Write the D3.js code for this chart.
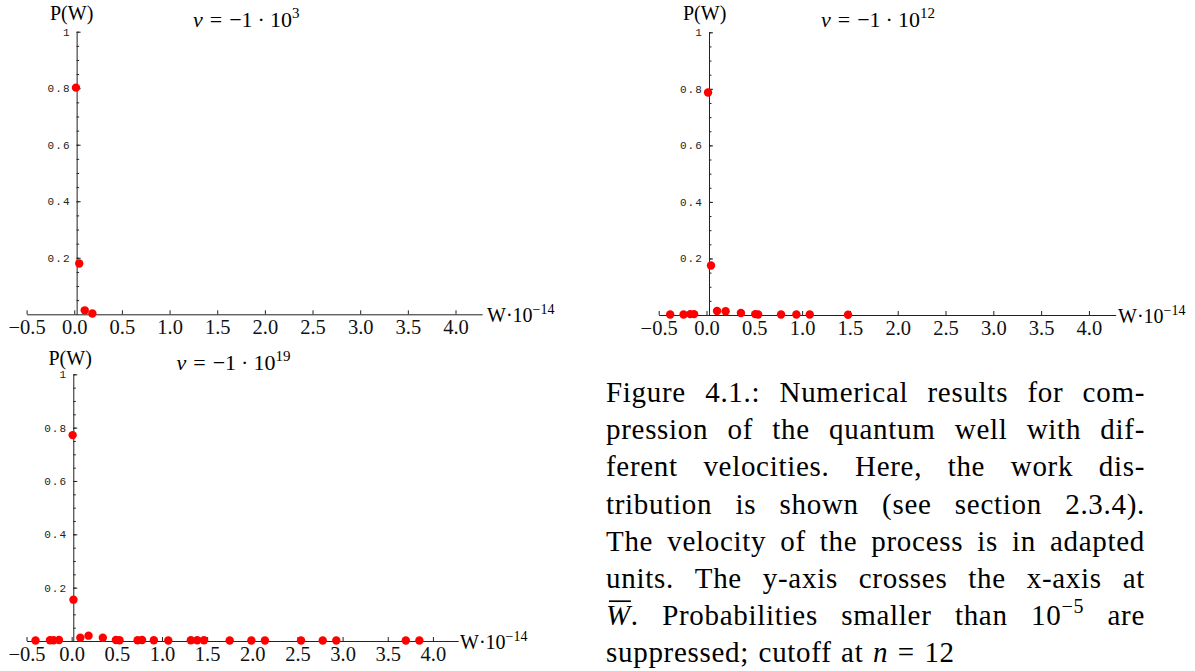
<!DOCTYPE html>
<html><head><meta charset="utf-8">
<script src="https://cdn.jsdelivr.net/npm/d3@7"></script>
<style>
body{margin:0;background:#fff;}
svg{display:block;}
</style></head>
<body>
<svg id="fig" width="1195" height="671"></svg>
<script>
// Work distribution P(W) of the compressed quantum well, W in units of 10^-14

const xTicks = [-0.5, 0, 0.5, 1.0, 1.5, 2.0, 2.5, 3.0, 3.5, 4.0];
const xTickLabels = ["−0.5", "0.0", "0.5", "1.0", "1.5", "2.0", "2.5", "3.0", "3.5", "4.0"];
const yTicks = [0.2, 0.4, 0.6, 0.8, 1];
const yTickLabels = ["0.2", "0.4", "0.6", "0.8", "1"];
const yMinorTicks = d3.range(0.05, 1.0001, 0.05);
const xExtent = [-0.5, 4.28];

// v = -1e3
const velocityExpA = "3";
const workA = [0.018, 0.052, 0.11, 0.19];
const probA = [0.802, 0.180, 0.014, 0.003];
const meanWorkA = 0.025;

// v = -1e12
const velocityExpB = "12";
const workB = [0.016, 0.047, -0.38, -0.24, -0.17, -0.13, 0.11, 0.20, 0.36, 0.51, 0.54, 0.78, 0.94, 1.08, 1.48];
const probB = [0.787, 0.175, 0.002, 0.002, 0.003, 0.003, 0.014, 0.013, 0.007, 0.003, 0.002, 0.002, 0.002, 0.002, 0.001];
const meanWorkB = 0.026;

// v = -1e19
const velocityExpC = "19";
const workC = [0.011, 0.020, -0.40, -0.24, -0.20, -0.14, 0.096, 0.187, 0.345, 0.49, 0.53, 0.73, 0.78, 0.91, 1.07,
               1.32, 1.39, 1.465, 1.75, 1.99, 2.14, 2.54, 2.78, 2.93, 3.70, 3.85];
const probC = [0.772, 0.155, 0.002, 0.003, 0.003, 0.004, 0.012, 0.020, 0.012, 0.004, 0.003, 0.003, 0.004, 0.003, 0.002,
               0.003, 0.003, 0.003, 0.002, 0.002, 0.002, 0.002, 0.002, 0.002, 0.002, 0.002];
const meanWorkC = 0.018;

const captionLines = [
  [["Figure"], ["4.1.:"], ["Numerical"], ["results"], ["for"], ["com-"]],
  [["pression"], ["of"], ["the"], ["quantum"], ["well"], ["with"], ["dif-"]],
  [["ferent"], ["velocities."], ["Here,"], ["the"], ["work"], ["dis-"]],
  [["tribution"], ["is"], ["shown"], ["(see"], ["section"], ["2.3.4)."]],
  [["The"], ["velocity"], ["of"], ["the"], ["process"], ["is"], ["in"], ["adapted"]],
  [["units."], ["The"], ["y-axis"], ["crosses"], ["the"], ["x-axis"], ["at"]],
  [[{t: "W", it: true, bar: true}, "."], ["Probabilities"], ["smaller"], ["than"], ["10", {t: "−5", sup: true}], ["are"]],
  [["suppressed;"], ["cutoff"], ["at"], [{t: "n", it: true}], ["="], ["12"]]
];

// ---- layout ----
const SERIF = "'Liberation Serif', 'Times New Roman', serif";
const MONO = "'Liberation Mono', 'Courier New', monospace";

const panels = [
  {work: workA, prob: probA, mean: meanWorkA, exp: velocityExpA,
   left: 26.6, right: 482.2, top: 31.7, bottom: 314.3,
   pw: [50, 19.5], title: [193, 26.5], wlab: [487, 322]},
  {work: workB, prob: probB, mean: meanWorkB, exp: velocityExpB,
   left: 658.7, right: 1115.7, top: 32.3, bottom: 315,
   pw: [683, 20], title: [821, 26.5], wlab: [1118, 323]},
  {work: workC, prob: probC, mean: meanWorkC, exp: velocityExpC,
   left: 26.5, right: 458.2, top: 374.3, bottom: 641,
   pw: [48.5, 364.5], title: [176.5, 370], wlab: [460, 649]}
];

const svg = d3.select("#fig");

panels.forEach(p => {
  const x = d3.scaleLinear().domain(xExtent).range([p.left, p.right]);
  const y = d3.scaleLinear().domain([0, 1]).range([p.bottom, p.top]);
  const g = svg.append("g");

  // x axis: ticks point upward, labels below
  const xAxis = d3.axisBottom(x)
    .tickValues(xTicks)
    .tickFormat((d, i) => xTickLabels[i])
    .tickSizeInner(-4).tickSizeOuter(0).tickPadding(5);
  const gx = g.append("g").attr("transform", `translate(0,${y(0)})`).call(xAxis);
  gx.select(".domain").attr("stroke", "#222").attr("stroke-width", 1);
  gx.selectAll(".tick line").attr("stroke", "#222");
  gx.selectAll(".tick text").attr("font-family", SERIF).attr("font-size", 20.5).attr("fill", "#111");

  // y axis crossing the x axis at the mean work
  const yAxis = d3.axisLeft(y)
    .tickValues(yTicks)
    .tickFormat((d, i) => yTickLabels[i])
    .tickSizeInner(-4).tickSizeOuter(0).tickPadding(6);
  const gy = g.append("g").attr("transform", `translate(${x(p.mean)},0)`).call(yAxis);
  gy.select(".domain").attr("stroke", "#222").attr("stroke-width", 1);
  gy.selectAll(".tick line").attr("stroke", "#222");
  gy.selectAll(".tick text").attr("font-family", MONO).attr("font-size", 11)
    .attr("letter-spacing", 1.1).attr("fill", "#222");

  const yMinor = d3.axisLeft(y).tickValues(yMinorTicks).tickFormat("").tickSizeInner(-2.5).tickSizeOuter(0);
  const gm = g.append("g").attr("transform", `translate(${x(p.mean)},0)`).call(yMinor);
  gm.select(".domain").remove();
  gm.selectAll(".tick line").attr("stroke", "#222");

  // points
  g.append("g").selectAll("circle")
    .data(p.work.map((w, i) => ({w, pr: p.prob[i]})))
    .join("circle")
    .attr("cx", d => x(d.w))
    .attr("cy", d => y(d.pr))
    .attr("r", 4.2)
    .attr("fill", "#ff0000");

  // axis labels
  g.append("text").attr("x", p.pw[0]).attr("y", p.pw[1])
    .attr("font-family", SERIF).attr("font-size", 20).text("P(W)");

  const wl = g.append("text").attr("x", p.wlab[0]).attr("y", p.wlab[1])
    .attr("font-family", SERIF).attr("font-size", 20);
  wl.append("tspan").text("W·10");
  wl.append("tspan").attr("dy", -8).attr("font-size", 14).text("−14");

  // velocity title
  const t = g.append("text").attr("x", p.title[0]).attr("y", p.title[1])
    .attr("font-family", SERIF).attr("font-size", 22);
  t.append("tspan").attr("font-style", "italic").text("v");
  t.append("tspan").attr("dx", 7).text("=");
  t.append("tspan").attr("dx", 7).text("−1");
  t.append("tspan").attr("dx", 5).text("·");
  t.append("tspan").attr("dx", 5).text("10");
  t.append("tspan").attr("dy", -9).attr("font-size", 15).text(p.exp);
});

// ---- caption, justified between two margins ----
const capLeft = 606, capRight = 1145, capTop = 402, capLead = 37.2, capSize = 29, capTrack = 0.7;
const cap = svg.append("g").attr("font-family", SERIF).attr("font-size", capSize)
  .attr("letter-spacing", capTrack).attr("fill", "#000");

function drawWord(runs, x0, base) {
  let xx = x0;
  runs.forEach(r => {
    const run = typeof r === "string" ? {t: r} : r;
    const el = cap.append("text").attr("x", xx).attr("y", run.sup ? base - 12 : base)
      .attr("font-size", run.sup ? 20 : capSize)
      .attr("font-style", run.it ? "italic" : null)
      .text(run.t);
    const w = el.node().getComputedTextLength();
    if (run.bar) {
      cap.append("line").attr("x1", xx + 3).attr("x2", xx + w)
        .attr("y1", base - 24).attr("y2", base - 24)
        .attr("stroke", "#000").attr("stroke-width", 1.7);
    }
    xx += w;
  });
  return xx - x0;
}

function measureWord(runs) {
  const tmp = cap.append("g");
  let w = 0;
  runs.forEach(r => {
    const run = typeof r === "string" ? {t: r} : r;
    const el = tmp.append("text").attr("font-size", run.sup ? 20 : capSize)
      .attr("font-style", run.it ? "italic" : null).text(run.t);
    w += el.node().getComputedTextLength();
  });
  tmp.remove();
  return w;
}

captionLines.forEach((words, li) => {
  const base = capTop + li * capLead;
  const widths = words.map(measureWord);
  const total = d3.sum(widths);
  const last = li === captionLines.length - 1;
  const gap = last ? capSize * 0.33 : (capRight - capLeft - total) / (words.length - 1);
  let xx = capLeft;
  words.forEach((w, i) => {
    drawWord(w, xx, base);
    xx += widths[i] + gap;
  });
});
</script>
</body></html>
